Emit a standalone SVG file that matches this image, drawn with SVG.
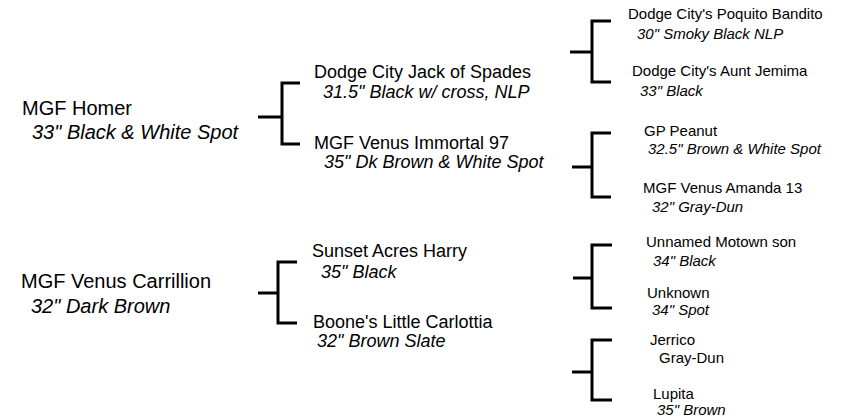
<svg xmlns="http://www.w3.org/2000/svg" width="844" height="418" viewBox="0 0 844 418">
<style>
text{font-family:"Liberation Sans",Arial,sans-serif;fill:#000}
.g1{font-size:20px}
.g2{font-size:18px}
.g3{font-size:15px}
.i{font-style:italic}
.br{fill:none;stroke:#000;stroke-width:3;stroke-linecap:butt;stroke-linejoin:miter}
</style>
<rect width="844" height="418" fill="#fff"/>
<g id="connectors">
<path class="br" d="M258,117H282M300,83H282V144H300"/>
<path class="br" d="M258,293H278M297,262H278V323H297"/>
<path class="br" d="M570,52H592M611,21H592V82H611"/>
<path class="br" d="M572,167H592M611,133H592V197H611"/>
<path class="br" d="M573,278H592M612,245H592V308H612"/>
<path class="br" d="M572,372H592M612,340H592V400H612"/>
</g>
<g id="homer"><text class="g1" x="22" y="115">MGF Homer</text><text class="g1 i" x="32" y="138.5">33" Black &amp; White Spot</text></g>
<g id="carrillion"><text class="g1" x="21" y="288">MGF Venus Carrillion</text><text class="g1 i" x="31" y="312.5">32" Dark Brown</text></g>
<g id="jack"><text class="g2" x="314" y="78">Dodge City Jack of Spades</text><text class="g2 i" x="323" y="98">31.5" Black w/ cross, NLP</text></g>
<g id="immortal"><text class="g2" x="314" y="149">MGF Venus Immortal 97</text><text class="g2 i" x="324" y="168">35" Dk Brown &amp; White Spot</text></g>
<g id="harry"><text class="g2" x="312" y="257">Sunset Acres Harry</text><text class="g2 i" x="321" y="278">35" Black</text></g>
<g id="carlottia"><text class="g2" x="313" y="328">Boone's Little Carlottia</text><text class="g2 i" x="317" y="347">32" Brown Slate</text></g>
<g id="bandito"><text class="g3" x="628" y="19">Dodge City's Poquito Bandito</text><text class="g3 i" x="637" y="39">30" Smoky Black NLP</text></g>
<g id="jemima"><text class="g3" x="632" y="76">Dodge City's Aunt Jemima</text><text class="g3 i" x="640" y="96">33" Black</text></g>
<g id="peanut"><text class="g3" x="644" y="136">GP Peanut</text><text class="g3 i" x="648" y="154">32.5" Brown &amp; White Spot</text></g>
<g id="amanda"><text class="g3" x="643" y="193">MGF Venus Amanda 13</text><text class="g3 i" x="652" y="212">32" Gray-Dun</text></g>
<g id="motown"><text class="g3" x="646" y="247">Unnamed Motown son</text><text class="g3 i" x="653" y="266">34" Black</text></g>
<g id="unknown"><text class="g3" x="647" y="298">Unknown</text><text class="g3 i" x="652" y="315">34" Spot</text></g>
<g id="jerrico"><text class="g3" x="650" y="345">Jerrico</text><text class="g3" x="659" y="363">Gray-Dun</text></g>
<g id="lupita"><text class="g3" x="653" y="399">Lupita</text><text class="g3 i" x="657" y="415">35" Brown</text></g>
</svg>
